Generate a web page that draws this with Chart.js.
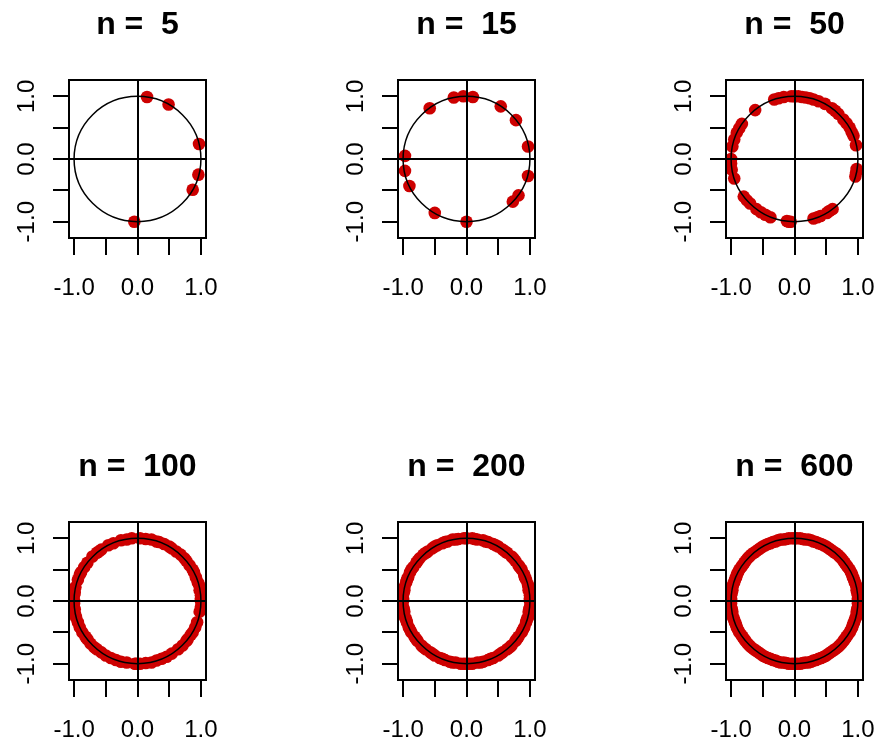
<!DOCTYPE html>
<html>
<head>
<meta charset="utf-8">
<script src="https://cdn.jsdelivr.net/npm/chart.js@4.4.1/dist/chart.umd.min.js"></script>
<style>
  body { margin: 0; background: #fff; }
  #wrap { position: relative; width: 876px; height: 745px; overflow: hidden; }
  #wrap canvas { position: absolute; }
</style>
</head>
<body>
<div id="wrap"></div>
<script>
const sampleSizes = [5, 15, 50, 100, 200, 600];
const tickValues = [-1, -0.5, 0, 0.5, 1];
const labelValues = [-1, 0, 1];
const xLimits = [-1.08, 1.08];
const yLimits = [-1.26, 1.26];
const unitCircle = { x: 0, y: 0, r: 1 };

// points, [x, y]
const pts5 = [[0.15, 0.99], [0.49, 0.87], [0.97, 0.24], [0.96, -0.25], [0.87, -0.49], [-0.05, -1.00]];

const pts15 = [[-0.20, 0.98], [-0.05, 1.00], [0.10, 0.99], [-0.58, 0.81], [0.54, 0.84], [0.78, 0.62],
  [0.97, 0.20], [-0.97, 0.05], [-0.97, -0.19], [-0.90, -0.43], [0.97, -0.27], [0.82, -0.58],
  [0.73, -0.68], [-0.50, -0.86], [0.00, -1.00]];

const pts50 = [[-0.32, 0.95], [-0.25, 0.97], [-0.17, 0.99], [-0.05, 1.00], [0.00, 1.00], [0.06, 1.00],
  [0.12, 0.99], [0.18, 0.98], [0.24, 0.97], [0.30, 0.95], [0.38, 0.92], [0.48, 0.88],
  [-0.62, 0.78],
  [-0.83, 0.56], [-0.87, 0.49], [-0.91, 0.42], [-0.95, 0.31], [-0.98, 0.20],
  [-1.00, -0.07], [-0.99, -0.17], [-1.00, 0.00], [-0.95, -0.31],
  [0.59, 0.81], [0.64, 0.77], [0.69, 0.72], [0.77, 0.63], [0.82, 0.57], [0.87, 0.50], [0.90, 0.43],
  [0.93, 0.37], [0.97, 0.22],
  [0.98, -0.16], [0.97, -0.22], [0.96, -0.28],
  [-0.80, -0.60], [-0.75, -0.66], [-0.70, -0.71], [-0.60, -0.80], [-0.53, -0.85], [-0.46, -0.89], [-0.38, -0.93],
  [-0.12, -0.99], [-0.09, -1.00], [-0.06, -1.00],
  [0.30, -0.95], [0.36, -0.93], [0.41, -0.91], [0.51, -0.86], [0.55, -0.83], [0.60, -0.80]];

const pts100 = [[1.00, 0.04], [1.00, 0.09], [0.98, 0.17], [0.97, 0.26], [0.95, 0.30], [0.92, 0.38], [0.89, 0.46],
  [0.87, 0.50], [0.82, 0.57], [0.77, 0.64], [0.74, 0.68], [0.68, 0.74], [0.61, 0.79], [0.54, 0.84],
  [0.50, 0.87], [0.42, 0.91], [0.34, 0.94], [0.30, 0.95], [0.22, 0.98], [0.13, 0.99], [0.04, 1.00],
  [-1.00, 0.00], [-1.00, 0.09], [-0.99, 0.13], [-0.98, 0.22], [-0.94, 0.34], [-0.91, 0.42], [-0.89, 0.46],
  [-0.84, 0.54], [-0.79, 0.61], [-0.71, 0.71], [-0.64, 0.77], [-0.61, 0.79], [-0.57, 0.82], [-0.46, 0.89],
  [-0.38, 0.92], [-0.26, 0.97], [-0.17, 0.98], [-0.09, 1.00],
  [-1.00, -0.04], [-0.99, -0.13], [-0.98, -0.22], [-0.97, -0.26], [-0.94, -0.34], [-0.91, -0.42], [-0.87, -0.50],
  [-0.82, -0.57], [-0.79, -0.61], [-0.74, -0.68], [-0.68, -0.74], [-0.64, -0.77], [-0.57, -0.82], [-0.50, -0.87],
  [-0.42, -0.91], [-0.34, -0.94], [-0.26, -0.97], [-0.17, -0.98], [-0.04, -1.00],
  [1.00, 0.00], [1.00, -0.09], [0.98, -0.17], [0.94, -0.34], [0.91, -0.42], [0.87, -0.50], [0.84, -0.54],
  [0.79, -0.61], [0.77, -0.64], [0.71, -0.71], [0.64, -0.77], [0.54, -0.84], [0.46, -0.89], [0.38, -0.92],
  [0.30, -0.95], [0.22, -0.98], [0.13, -0.99], [0.04, -1.00], [-0.02, -1.00]];

const pts200 = [[1.00, 0.00], [1.00, 0.04], [1.00, 0.09], [0.98, 0.17], [0.98, 0.22], [0.97, 0.26], [0.94, 0.34],
  [0.92, 0.38], [0.91, 0.42], [0.87, 0.50], [0.84, 0.54], [0.82, 0.57], [0.77, 0.64], [0.74, 0.68],
  [0.71, 0.71], [0.64, 0.77], [0.61, 0.79], [0.57, 0.82], [0.50, 0.87], [0.46, 0.89], [0.42, 0.91],
  [0.34, 0.94], [0.30, 0.95], [0.26, 0.97], [0.17, 0.98], [0.13, 0.99], [0.09, 1.00],
  [0.00, 1.00], [-0.04, 1.00], [-0.13, 0.99], [-0.17, 0.98], [-0.22, 0.98], [-0.30, 0.95], [-0.34, 0.94],
  [-0.38, 0.92], [-0.46, 0.89], [-0.50, 0.87], [-0.54, 0.84], [-0.61, 0.79], [-0.64, 0.77], [-0.68, 0.74],
  [-0.74, 0.68], [-0.77, 0.64], [-0.79, 0.61], [-0.84, 0.54], [-0.87, 0.50], [-0.89, 0.46], [-0.92, 0.38],
  [-0.94, 0.34], [-0.95, 0.30], [-0.98, 0.22], [-0.98, 0.17], [-0.99, 0.13], [-1.00, 0.04],
  [-1.00, 0.00], [-1.00, -0.09], [-0.99, -0.13], [-0.98, -0.17], [-0.97, -0.26], [-0.95, -0.30], [-0.94, -0.34],
  [-0.91, -0.42], [-0.89, -0.46], [-0.87, -0.50], [-0.82, -0.57], [-0.79, -0.61], [-0.77, -0.64], [-0.71, -0.71],
  [-0.68, -0.74], [-0.64, -0.77], [-0.57, -0.82], [-0.54, -0.84], [-0.50, -0.87], [-0.42, -0.91], [-0.38, -0.92],
  [-0.34, -0.94], [-0.26, -0.97], [-0.22, -0.98], [-0.17, -0.98], [-0.09, -1.00], [-0.04, -1.00],
  [0.00, -1.00], [0.04, -1.00], [0.09, -1.00], [0.17, -0.98], [0.22, -0.98], [0.26, -0.97], [0.34, -0.94],
  [0.38, -0.92], [0.42, -0.91], [0.50, -0.87], [0.54, -0.84], [0.57, -0.82], [0.64, -0.77], [0.68, -0.74],
  [0.71, -0.71], [0.77, -0.64], [0.79, -0.61], [0.82, -0.57], [0.87, -0.50], [0.89, -0.46], [0.91, -0.42],
  [0.94, -0.34], [0.95, -0.30], [0.97, -0.26], [0.98, -0.17], [0.99, -0.13], [1.00, -0.09]];

const pts600 = [[1.00, 0.00], [1.00, 0.04], [1.00, 0.09], [0.99, 0.13], [0.98, 0.17], [0.98, 0.22], [0.97, 0.26],
  [0.95, 0.30], [0.94, 0.34], [0.92, 0.38], [0.91, 0.42], [0.89, 0.46], [0.87, 0.50], [0.84, 0.54],
  [0.82, 0.57], [0.79, 0.61], [0.77, 0.64], [0.74, 0.68], [0.71, 0.71], [0.68, 0.74], [0.64, 0.77],
  [0.61, 0.79], [0.57, 0.82], [0.54, 0.84], [0.50, 0.87], [0.46, 0.89], [0.42, 0.91], [0.38, 0.92],
  [0.34, 0.94], [0.30, 0.95], [0.26, 0.97], [0.22, 0.98], [0.17, 0.98], [0.13, 0.99], [0.09, 1.00], [0.04, 1.00],
  [0.00, 1.00], [-0.04, 1.00], [-0.09, 1.00], [-0.13, 0.99], [-0.17, 0.98], [-0.22, 0.98], [-0.26, 0.97],
  [-0.30, 0.95], [-0.34, 0.94], [-0.38, 0.92], [-0.42, 0.91], [-0.46, 0.89], [-0.50, 0.87], [-0.54, 0.84],
  [-0.57, 0.82], [-0.61, 0.79], [-0.64, 0.77], [-0.68, 0.74], [-0.71, 0.71], [-0.74, 0.68], [-0.77, 0.64],
  [-0.79, 0.61], [-0.82, 0.57], [-0.84, 0.54], [-0.87, 0.50], [-0.89, 0.46], [-0.91, 0.42], [-0.92, 0.38],
  [-0.94, 0.34], [-0.95, 0.30], [-0.97, 0.26], [-0.98, 0.22], [-0.98, 0.17], [-0.99, 0.13], [-1.00, 0.09], [-1.00, 0.04],
  [-1.00, 0.00], [-1.00, -0.04], [-1.00, -0.09], [-0.99, -0.13], [-0.98, -0.17], [-0.98, -0.22], [-0.97, -0.26],
  [-0.95, -0.30], [-0.94, -0.34], [-0.92, -0.38], [-0.91, -0.42], [-0.89, -0.46], [-0.87, -0.50], [-0.84, -0.54],
  [-0.82, -0.57], [-0.79, -0.61], [-0.77, -0.64], [-0.74, -0.68], [-0.71, -0.71], [-0.68, -0.74], [-0.64, -0.77],
  [-0.61, -0.79], [-0.57, -0.82], [-0.54, -0.84], [-0.50, -0.87], [-0.46, -0.89], [-0.42, -0.91], [-0.38, -0.92],
  [-0.34, -0.94], [-0.30, -0.95], [-0.26, -0.97], [-0.22, -0.98], [-0.17, -0.98], [-0.13, -0.99], [-0.09, -1.00], [-0.04, -1.00],
  [0.00, -1.00], [0.04, -1.00], [0.09, -1.00], [0.13, -0.99], [0.17, -0.98], [0.22, -0.98], [0.26, -0.97],
  [0.30, -0.95], [0.34, -0.94], [0.38, -0.92], [0.42, -0.91], [0.46, -0.89], [0.50, -0.87], [0.54, -0.84],
  [0.57, -0.82], [0.61, -0.79], [0.64, -0.77], [0.68, -0.74], [0.71, -0.71], [0.74, -0.68], [0.77, -0.64],
  [0.79, -0.61], [0.82, -0.57], [0.84, -0.54], [0.87, -0.50], [0.89, -0.46], [0.91, -0.42], [0.92, -0.38],
  [0.94, -0.34], [0.95, -0.30], [0.97, -0.26], [0.98, -0.22], [0.98, -0.17], [0.99, -0.13], [1.00, -0.09], [1.00, -0.04]];

const panelPoints = [pts5, pts15, pts50, pts100, pts200, pts600];

const FONT = "'Liberation Sans', Arial, sans-serif";
const boxLeft = [69, 398, 726];
const rowTop = [0, 442];

// box, unit circle, abline(h=0, v=0) and the rotated y labels, R style
const rFrame = {
  id: 'rFrame',
  afterDatasetsDraw(chart) {
    const { ctx, chartArea: a } = chart;
    const xs = chart.scales.x, ys = chart.scales.y;
    const cx = xs.getPixelForValue(unitCircle.x);
    const cy = ys.getPixelForValue(unitCircle.y);
    const rx = xs.getPixelForValue(unitCircle.x + unitCircle.r) - cx;
    const ry = cy - ys.getPixelForValue(unitCircle.y + unitCircle.r);
    ctx.save();
    ctx.strokeStyle = '#000';
    ctx.lineWidth = 1.5;
    ctx.beginPath();
    ctx.ellipse(cx, cy, rx, ry, 0, 0, Math.PI * 2);
    ctx.stroke();
    ctx.lineWidth = 2;
    ctx.beginPath();
    ctx.moveTo(a.left, Math.round(cy));
    ctx.lineTo(a.right, Math.round(cy));
    ctx.moveTo(Math.round(cx), a.top);
    ctx.lineTo(Math.round(cx), a.bottom);
    ctx.stroke();
    ctx.strokeRect(a.left, a.top, a.right - a.left, a.bottom - a.top);
    ctx.restore();
  },
  afterDraw(chart) {
    const { ctx, chartArea: a } = chart;
    const ys = chart.scales.y;
    ctx.save();
    ctx.fillStyle = '#000';
    ctx.font = '24px ' + FONT;
    ctx.textAlign = 'center';
    ctx.textBaseline = 'alphabetic';
    labelValues.forEach(v => {
      ctx.save();
      ctx.translate(a.left - 35, ys.getPixelForValue(v));
      ctx.rotate(-Math.PI / 2);
      ctx.fillText(v.toFixed(1), 0, 0);
      ctx.restore();
    });
    ctx.restore();
  }
};

function setTicks(scale) {
  scale.ticks = tickValues.map(v => ({ value: v }));
}

const wrap = document.getElementById('wrap');

sampleSizes.forEach((n, i) => {
  const canvas = document.createElement('canvas');
  canvas.width = 228;
  canvas.height = 308;
  canvas.style.left = (boxLeft[i % 3] - 67) + 'px';
  canvas.style.top = rowTop[Math.floor(i / 3)] + 'px';
  wrap.appendChild(canvas);

  new Chart(canvas, {
    type: 'scatter',
    data: {
      datasets: [{
        data: panelPoints[i].map(p => ({ x: p[0], y: p[1] })),
        backgroundColor: '#CD0000',
        borderWidth: 0,
        pointRadius: 6.3,
        pointHoverRadius: 6.3
      }]
    },
    options: {
      responsive: false,
      animation: false,
      events: [],
      layout: { padding: { left: 0, right: 24, top: 0, bottom: 0 } },
      plugins: {
        legend: { display: false },
        tooltip: { enabled: false },
        title: {
          display: true,
          fullSize: false,
          text: 'n =  ' + n,
          color: '#000',
          font: { family: FONT, size: 32, weight: 'bold' },
          padding: { top: 6, bottom: 35.6 }
        }
      },
      scales: {
        x: {
          type: 'linear',
          min: xLimits[0],
          max: xLimits[1],
          afterBuildTicks: setTicks,
          afterFit: s => { s.height = 70; s.paddingLeft = 0; s.paddingRight = 0; },
          border: { display: false },
          grid: { drawOnChartArea: false, color: '#000', lineWidth: 2, tickLength: 17 },
          ticks: {
            autoSkip: false,
            maxRotation: 0,
            padding: 19,
            color: '#000',
            font: { family: FONT, size: 24 },
            callback: v => labelValues.includes(v) ? v.toFixed(1) : ''
          }
        },
        y: {
          type: 'linear',
          min: yLimits[0],
          max: yLimits[1],
          afterBuildTicks: setTicks,
          afterFit: s => { s.width = 67; s.paddingTop = 0; s.paddingBottom = 0; },
          border: { display: false },
          grid: { drawOnChartArea: false, color: '#000', lineWidth: 2, tickLength: 16 },
          ticks: { display: false }
        }
      }
    },
    plugins: [rFrame]
  });
});
</script>
</body>
</html>
